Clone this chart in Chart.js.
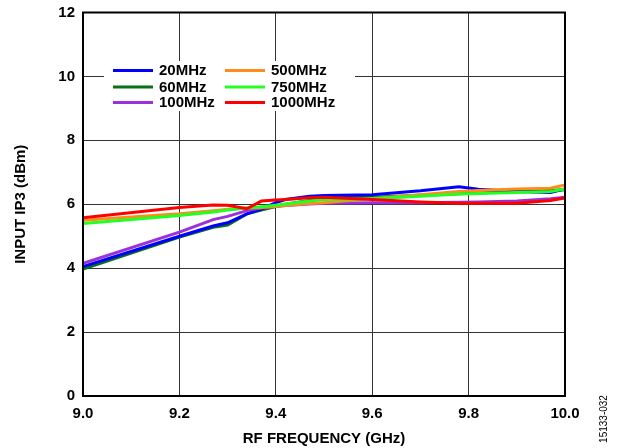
<!DOCTYPE html>
<html>
<head>
<meta charset="utf-8">
<script src="https://cdn.jsdelivr.net/npm/chart.js@4.4.1/dist/chart.umd.min.js"></script>
<style>
  html, body { margin: 0; padding: 0; background: #fff; }
  #wrap { width: 618px; height: 448px; }
</style>
</head>
<body>
<div id="wrap"><canvas id="ip3Chart" width="618" height="448"></canvas></div>
<script>
// RF frequency (GHz) sample points shared by all curves
const freq = [9.0, 9.2, 9.27, 9.3, 9.34, 9.37, 9.4, 9.42, 9.47, 9.5, 9.6, 9.7, 9.78, 9.82, 9.9, 9.97, 10.0];

// input IP3 (dBm) per IF frequency
const ip3_20 = [4.05, 5.0, 5.32, 5.42, 5.7, 5.85, 6.05, 6.15, 6.25, 6.27, 6.3, 6.42, 6.55, 6.47, 6.4, 6.37, 6.48];
const ip3_60 = [3.97, 4.97, 5.28, 5.35, 5.7, 5.82, 5.93, 6.0, 6.12, 6.2, 6.22, 6.28, 6.33, 6.35, 6.4, 6.43, 6.45];
const ip3_100 = [4.15, 5.13, 5.52, 5.62, 5.8, 5.88, 5.93, 5.96, 6.01, 6.03, 6.05, 6.05, 6.06, 6.07, 6.1, 6.17, 6.22];
const ip3_500 = [5.5, 5.7, 5.8, 5.84, 5.88, 5.9, 5.93, 5.96, 6.02, 6.05, 6.18, 6.3, 6.4, 6.43, 6.48, 6.5, 6.6];
const ip3_750 = [5.4, 5.65, 5.76, 5.82, 5.88, 5.92, 5.97, 6.01, 6.1, 6.15, 6.17, 6.25, 6.32, 6.34, 6.37, 6.4, 6.48];
const ip3_1000 = [5.58, 5.9, 5.98, 5.97, 5.86, 6.1, 6.13, 6.15, 6.2, 6.22, 6.15, 6.07, 6.03, 6.03, 6.03, 6.12, 6.2];

const xTicks = [9.0, 9.2, 9.4, 9.6, 9.8, 10.0];
const yTicks = [0, 2, 4, 6, 8, 10, 12];

const FONT = "'Liberation Sans', Arial, Helvetica, sans-serif";

function pts(ys) {
    return freq.map((f, i) => ({ x: f, y: ys[i] }));
}

function series(label, ys, color, order) {
    return {
        label: label,
        data: pts(ys),
        borderColor: color,
        backgroundColor: color,
        borderWidth: 3,
        pointRadius: 0,
        tension: 0,
        order: order
    };
}

// legend laid out in two columns like the datasheet plot
const legendBox = {
    id: 'legendBox',
    beforeDatasetsDraw(chart) {
        const ctx = chart.ctx;
        ctx.save();
        ctx.fillStyle = '#fff';
        ctx.fillRect(104, 61, 251, 50);
        const cols = [113, 225];
        const rows = [70.5, 87, 102.5];
        const layout = [[0, 0], [1, 0], [2, 0], [0, 1], [1, 1], [2, 1]];
        ctx.font = 'bold 15px ' + FONT;
        ctx.textBaseline = 'middle';
        chart.data.datasets.forEach((ds, i) => {
            const [r, c] = layout[i];
            const x = cols[c], y = rows[r];
            ctx.strokeStyle = ds.borderColor;
            ctx.lineWidth = 3;
            ctx.beginPath();
            ctx.moveTo(x, y);
            ctx.lineTo(x + 40, y);
            ctx.stroke();
            ctx.fillStyle = '#000';
            ctx.fillText(ds.label, x + 46, y + 0.5);
        });
        ctx.restore();
    },
    afterDraw(chart) {
        const ctx = chart.ctx;
        const a = chart.chartArea;
        ctx.save();
        ctx.strokeStyle = '#000';
        ctx.lineWidth = 2;
        ctx.strokeRect(a.left, a.top, a.right - a.left, a.bottom - a.top);
        // figure number
        ctx.translate(604, 419);
        ctx.rotate(-Math.PI / 2);
        ctx.font = '10px ' + FONT;
        ctx.fillStyle = '#000';
        ctx.textAlign = 'center';
        ctx.textBaseline = 'middle';
        ctx.fillText('15133-032', 0, 0);
        ctx.restore();
    }
};

new Chart(document.getElementById('ip3Chart'), {
    type: 'line',
    data: {
        datasets: [
            series('20MHz', ip3_20, '#0000ff', 4),
            series('60MHz', ip3_60, '#087018', 5),
            series('100MHz', ip3_100, '#9b30dc', 3),
            series('500MHz', ip3_500, '#ff8c1a', 2),
            series('750MHz', ip3_750, '#22ff22', 1),
            series('1000MHz', ip3_1000, '#ff0000', 0)
        ]
    },
    plugins: [legendBox],
    options: {
        responsive: false,
        animation: false,
        devicePixelRatio: 1,
        layout: { padding: { left: 0, right: 53, top: 12.5, bottom: 0 } },
        plugins: {
            legend: { display: false },
            tooltip: { enabled: false }
        },
        scales: {
            x: {
                type: 'linear',
                min: 9.0,
                max: 10.0,
                afterBuildTicks: s => { s.ticks = xTicks.map(v => ({ value: v })); },
                afterFit: s => { s.height = 52; },
                ticks: {
                    color: '#000',
                    font: { family: FONT, size: 15, weight: 'bold' },
                    padding: 9,
                    maxRotation: 0,
                    callback: v => v.toFixed(1)
                },
                grid: { color: '#333', lineWidth: 1, drawTicks: false },
                border: { display: false },
                title: {
                    display: true,
                    text: 'RF FREQUENCY (GHz)',
                    color: '#000',
                    font: { family: FONT, size: 15, weight: 'bold' },
                    padding: { top: 0, bottom: 0 }
                }
            },
            y: {
                min: 0,
                max: 12,
                afterBuildTicks: s => { s.ticks = yTicks.map(v => ({ value: v })); },
                afterFit: s => { s.width = 83; s.paddingTop = 0; s.paddingBottom = 0; },
                ticks: {
                    color: '#000',
                    font: { family: FONT, size: 15, weight: 'bold' },
                    padding: 8
                },
                grid: { color: '#333', lineWidth: 1, drawTicks: false },
                border: { display: false },
                title: {
                    display: true,
                    text: 'INPUT IP3 (dBm)',
                    color: '#000',
                    font: { family: FONT, size: 15, weight: 'bold' },
                    padding: { top: 12, bottom: 0 }
                }
            }
        }
    }
});
</script>
</body>
</html>
